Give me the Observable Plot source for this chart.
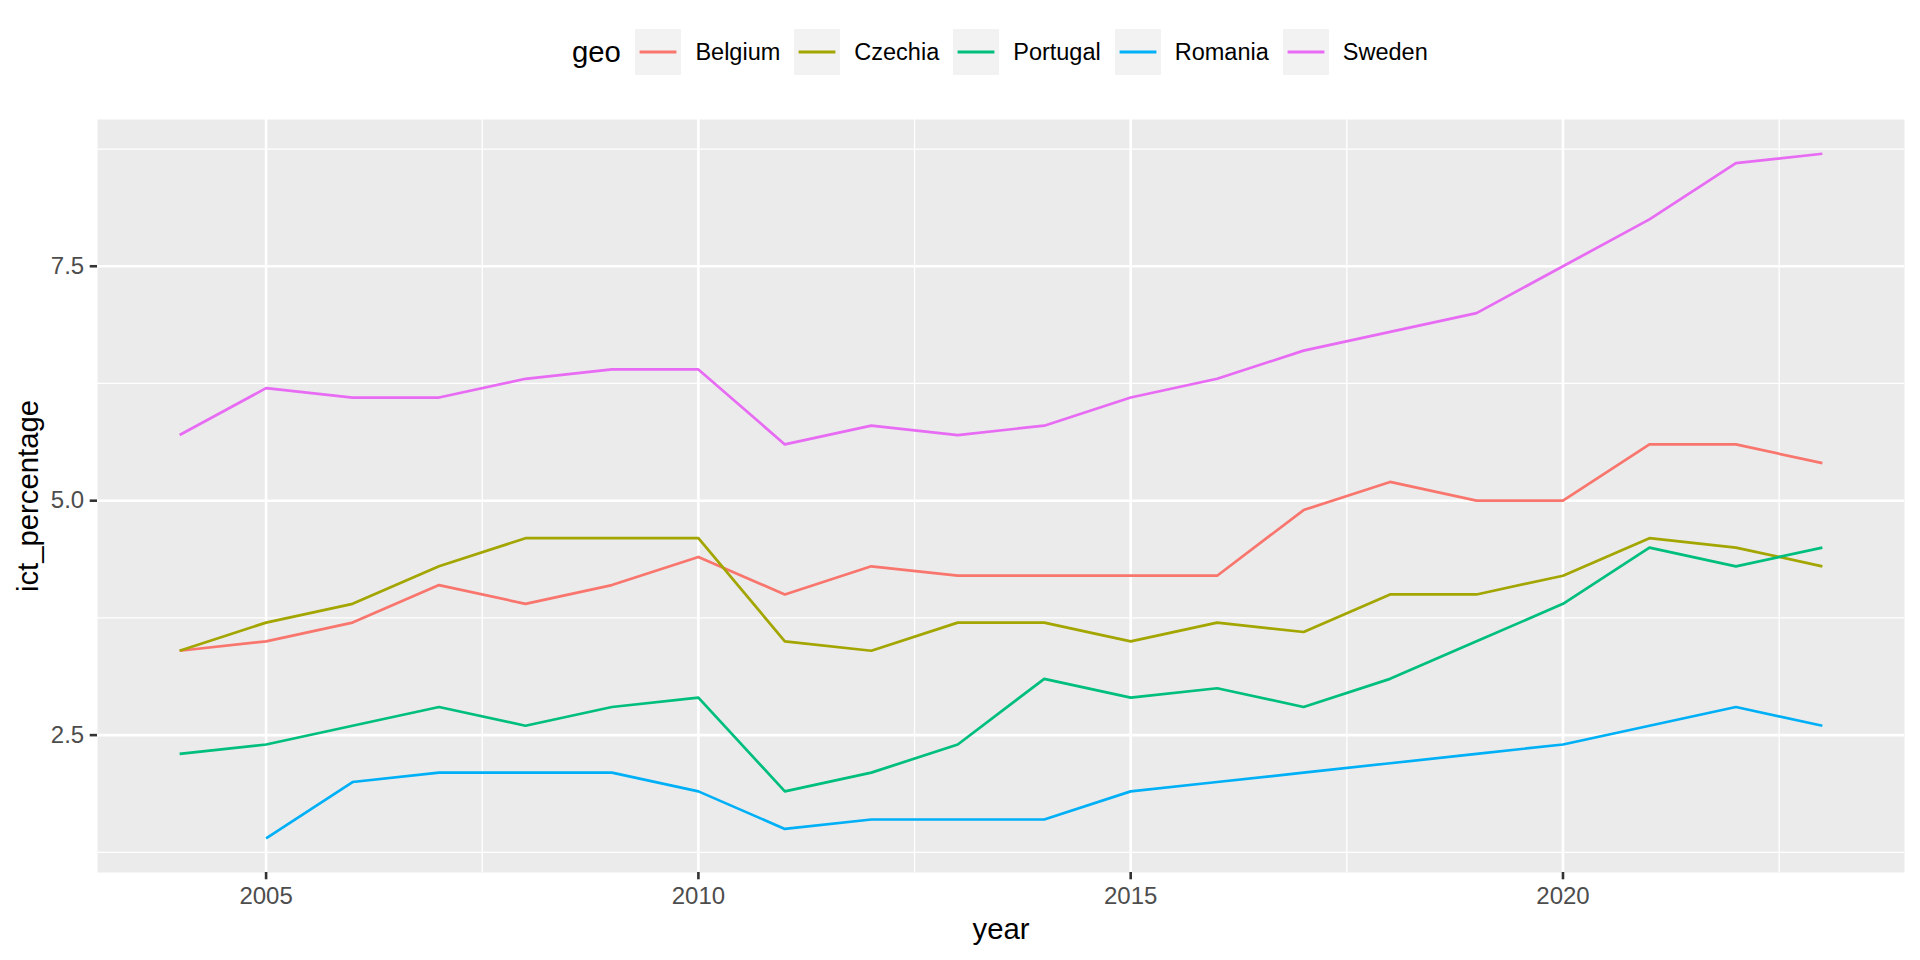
<!DOCTYPE html>
<html>
<head>
<meta charset="utf-8">
<script src="https://cdn.jsdelivr.net/npm/d3@7"></script>
<script src="https://cdn.jsdelivr.net/npm/@observablehq/plot@0.6"></script>
<style>
  html, body { margin: 0; padding: 0; background: #ffffff; overflow: hidden; }
  body { width: 1920px; height: 960px; font-family: "Liberation Sans", Arial, Helvetica, sans-serif; }
  #legend { position: relative; height: 100px; width: 1920px; }
  #legend .row { position: absolute; left: 572px; top: 29px; height: 46px; display: flex; align-items: center; white-space: nowrap; }
  #legend .title { font-size: 29.3px; color: #000; margin-right: 14.5px; }
  #legend .key { width: 46px; height: 46px; background: #F2F2F2; display: block; }
  #legend .lab { font-size: 23.5px; color: #000; margin-left: 14px; margin-right: 14px; }
  #chart svg { display: block; }
</style>
</head>
<body>
<div id="legend"></div>
<div id="chart"></div>
<script>
const years = [2004, 2005, 2006, 2007, 2008, 2009, 2010, 2011, 2012, 2013, 2014, 2015, 2016, 2017, 2018, 2019, 2020, 2021, 2022, 2023];
const countries = ["Belgium", "Czechia", "Portugal", "Romania", "Sweden"];
const colors = ["#F8766D", "#A3A500", "#00BF7D", "#00B0F6", "#E76BF3"];

const belgium  = [3.4, 3.5, 3.7, 4.1, 3.9, 4.1, 4.4, 4.0, 4.3, 4.2, 4.2, 4.2, 4.2, 4.9, 5.2, 5.0, 5.0, 5.6, 5.6, 5.4];
const czechia  = [3.4, 3.7, 3.9, 4.3, 4.6, 4.6, 4.6, 3.5, 3.4, 3.7, 3.7, 3.5, 3.7, 3.6, 4.0, 4.0, 4.2, 4.6, 4.5, 4.3];
const portugal = [2.3, 2.4, 2.6, 2.8, 2.6, 2.8, 2.9, 1.9, 2.1, 2.4, 3.1, 2.9, 3.0, 2.8, 3.1, 3.5, 3.9, 4.5, 4.3, 4.5];
const romania  = [null, 1.4, 2.0, 2.1, 2.1, 2.1, 1.9, 1.5, 1.6, 1.6, 1.6, 1.9, 2.0, 2.1, 2.2, 2.3, 2.4, 2.6, 2.8, 2.6];
const sweden   = [5.7, 6.2, 6.1, 6.1, 6.3, 6.4, 6.4, 5.6, 5.8, 5.7, 5.8, 6.1, 6.3, 6.6, 6.8, 7.0, 7.5, 8.0, 8.6, 8.7];

const xMajor = [2005, 2010, 2015, 2020];
const xMinor = [2007.5, 2012.5, 2017.5, 2022.5];
const yMajor = [2.5, 5.0, 7.5];
const yMinor = [1.25, 3.75, 6.25, 8.75];

const seriesValues = [belgium, czechia, portugal, romania, sweden];
const data = [];
countries.forEach((c, i) => {
  years.forEach((y, j) => {
    const v = seriesValues[i][j];
    if (v != null) data.push({geo: c, year: y, value: v});
  });
});

// Legend (HTML, above the SVG)
const row = document.createElement("div");
row.className = "row";
const t = document.createElement("span");
t.className = "title";
t.textContent = "geo";
row.appendChild(t);
countries.forEach((c, i) => {
  const key = document.createElementNS("http://www.w3.org/2000/svg", "svg");
  key.setAttribute("class", "key");
  key.setAttribute("width", 46);
  key.setAttribute("height", 46);
  const r = document.createElementNS("http://www.w3.org/2000/svg", "rect");
  r.setAttribute("width", 46); r.setAttribute("height", 46); r.setAttribute("fill", "#F2F2F2");
  key.appendChild(r);
  const l = document.createElementNS("http://www.w3.org/2000/svg", "line");
  l.setAttribute("x1", 4.6); l.setAttribute("x2", 41.4);
  l.setAttribute("y1", 23); l.setAttribute("y2", 23);
  l.setAttribute("stroke", colors[i]); l.setAttribute("stroke-width", 2.8);
  key.appendChild(l);
  row.appendChild(key);
  const lab = document.createElement("span");
  lab.className = "lab";
  lab.textContent = c;
  row.appendChild(lab);
});
document.getElementById("legend").appendChild(row);

const chart = Plot.plot({
  width: 1920,
  height: 860,
  marginLeft: 97,
  marginRight: 16,
  marginTop: 19,
  marginBottom: 88,
  style: {fontFamily: "Liberation Sans, Arial, Helvetica, sans-serif", fontSize: "24px", background: "#ffffff", color: "#000000"},
  x: {domain: [2003.05, 2023.95]},
  y: {domain: [1.035, 9.065]},
  color: {domain: countries, range: colors},
  marks: [
    Plot.frame({fill: "#EBEBEB", stroke: "none"}),
    Plot.ruleY(yMinor, {stroke: "#ffffff", strokeWidth: 1.3}),
    Plot.ruleX(xMinor, {stroke: "#ffffff", strokeWidth: 1.3}),
    Plot.ruleY(yMajor, {stroke: "#ffffff", strokeWidth: 2.6}),
    Plot.ruleX(xMajor, {stroke: "#ffffff", strokeWidth: 2.6}),
    Plot.line(data, {x: "year", y: "value", z: "geo", stroke: "geo", strokeWidth: 2.7, strokeLinecap: "butt", strokeLinejoin: "round"}),
    Plot.axisX({ticks: xMajor, tickFormat: d => String(d), tickSize: 7.3, tickPadding: 7, fontSize: 24, fill: "#4D4D4D", stroke: "#333333", strokeWidth: 2.6, label: null}),
    Plot.axisY({ticks: yMajor, tickFormat: d3.format(".1f"), tickSize: 7.3, tickPadding: 6, fontSize: 24, fill: "#4D4D4D", stroke: "#333333", strokeWidth: 2.6, label: null}),
    Plot.text(["year"], {text: d => d, frameAnchor: "bottom", lineAnchor: "middle", textAnchor: "middle", dy: 57, fontSize: 29.3, fill: "#000000"}),
    Plot.text(["ict_percentage"], {text: d => d, frameAnchor: "left", lineAnchor: "middle", textAnchor: "middle", dx: -68.5, rotate: -90, fontSize: 29.3, fill: "#000000"})
  ]
});
document.getElementById("chart").appendChild(chart);
</script>
</body>
</html>
